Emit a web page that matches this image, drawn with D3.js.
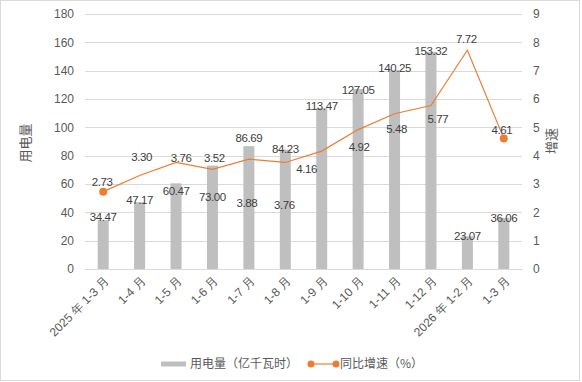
<!DOCTYPE html>
<html>
<head>
<meta charset="utf-8">
<script src="https://cdn.jsdelivr.net/npm/d3@7"></script>
<style>
html,body{margin:0;padding:0;background:#fff;}
svg{display:block;font-family:"Liberation Sans",Arial,"Noto Sans CJK SC",sans-serif;}
</style>
</head>
<body>
<svg id="chart" width="582" height="382"></svg>
<script>
const categories = ["2025 年 1-3 月","1-4 月","1-5 月","1-6 月","1-7 月","1-8 月","1-9 月","1-10 月","1-11 月","1-12 月","2026 年 1-2 月","1-3 月"];
const usage = [34.47,47.17,60.47,73.00,86.69,84.23,113.47,127.05,140.25,153.32,23.07,36.06];
const growth = [2.73,3.30,3.76,3.52,3.88,3.76,4.16,4.92,5.48,5.77,7.72,4.61];
const leftTicks = [0,20,40,60,80,100,120,140,160,180];
const rightTicks = [0,1,2,3,4,5,6,7,8,9];

// label placement offsets (style)
const barLabelDy = [-3.5,-2,8,31,-8,-1,-2,1,-2,-1,-0.5,-0.2];
const lineLabelDy = [-10,-19,-4.5,-11.6,44,42.5,17.7,17,15,13.5,-11,-8];
const lineLabelDx = [-1,2,5,2,-2,-1,-15,1,2,7,-1,-2];

const svg = d3.select("#chart");
const W = 582, H = 382;
const m = {left:85, right:60, top:14, bottom:113};
const x0 = m.left, x1 = W - m.right, y0 = H - m.bottom, y1 = m.top;

svg.append("rect").attr("x",0.5).attr("y",0.5).attr("width",579).attr("height",380)
  .attr("fill","#fff").attr("stroke","#D9D9D9");

const xc = d3.scalePoint().domain(categories).range([x0, x1]).padding(0.5);
const yL = d3.scaleLinear().domain([0,180]).range([y0,y1]);
const yR = d3.scaleLinear().domain([0,9]).range([y0,y1]);

// gridlines
svg.append("g").selectAll("line").data(leftTicks).join("line")
  .attr("x1",x0).attr("x2",x1)
  .attr("y1",d=>Math.round(yL(d))+0.5).attr("y2",d=>Math.round(yL(d))+0.5)
  .attr("stroke","#D9D9D9").attr("stroke-width",1);

// left axis
const gl = svg.append("g").attr("transform",`translate(${x0},0)`)
  .call(d3.axisLeft(yL).tickValues(leftTicks).tickSize(0).tickPadding(11));
gl.select(".domain").remove();
gl.selectAll("text").attr("fill","#595959").attr("font-size","12px").style("font-family","'Liberation Sans',Arial,sans-serif");

// right axis
const gr = svg.append("g").attr("transform",`translate(${x1},0)`)
  .call(d3.axisRight(yR).tickValues(rightTicks).tickSize(0).tickPadding(11));
gr.select(".domain").remove();
gr.selectAll("text").attr("fill","#595959").attr("font-size","12px").style("font-family","'Liberation Sans',Arial,sans-serif");

// bars
svg.append("g").selectAll("rect").data(usage).join("rect")
  .attr("x",(d,i)=>xc(categories[i]) - 5.5)
  .attr("width",11)
  .attr("y",d=>yL(d))
  .attr("height",d=>y0 - yL(d))
  .attr("fill","#BFBFBF");

// bottom axis
const gb = svg.append("g").attr("transform",`translate(0,${y0})`)
  .call(d3.axisBottom(xc).tickSize(0).tickPadding(0));
gb.select(".domain").attr("stroke","#D9D9D9");
gb.selectAll("text")
  .attr("fill","#595959").attr("font-size","12px")
  .attr("text-anchor","end")
  .attr("dy",null).attr("y",null)
  .attr("transform","translate(6,13) rotate(-45)");

// line
const line = d3.line().x((d,i)=>xc(categories[i])).y(d=>yR(d));
svg.append("path").datum(growth).attr("d",line)
  .attr("fill","none").attr("stroke","#ED7D31").attr("stroke-width",1.2);

// end markers
svg.append("g").selectAll("circle").data([0, growth.length-1]).join("circle")
  .attr("cx",i=>xc(categories[i])).attr("cy",i=>yR(growth[i])).attr("r",4)
  .attr("fill","#ED7D31");

// bar labels
svg.append("g").selectAll("text").data(usage).join("text")
  .attr("x",(d,i)=>xc(categories[i]))
  .attr("y",(d,i)=>yL(d) + barLabelDy[i])
  .attr("dy","0.35em")
  .attr("text-anchor","middle")
  .attr("font-size","11.5px").attr("letter-spacing","-0.4px")
  .attr("fill","#404040")
  .text(d=>d.toFixed(2));

// line labels
svg.append("g").selectAll("text").data(growth).join("text")
  .attr("x",(d,i)=>xc(categories[i]) + lineLabelDx[i])
  .attr("y",(d,i)=>yR(d) + lineLabelDy[i])
  .attr("dy","0.35em")
  .attr("text-anchor","middle")
  .attr("font-size","11.5px").attr("letter-spacing","-0.4px")
  .attr("fill","#404040")
  .text(d=>d.toFixed(2));

// axis titles
svg.append("text").attr("transform","translate(25,143) rotate(-90)")
  .attr("text-anchor","middle").attr("dy","0.35em")
  .attr("font-size","13px").attr("fill","#595959")
  .style("font-family","'Noto Sans CJK SC',sans-serif")
  .text("用电量");
svg.append("text").attr("transform","translate(551,141) rotate(-90)")
  .attr("text-anchor","middle").attr("dy","0.35em")
  .attr("font-size","13px").attr("fill","#595959")
  .style("font-family","'Noto Sans CJK SC',sans-serif")
  .text("增速");

// legend
const lg = svg.append("g");
lg.append("rect").attr("x",161).attr("y",361.5).attr("width",25).attr("height",5).attr("fill","#BFBFBF");
lg.append("text").attr("x",190).attr("y",364).attr("dy","0.35em")
  .attr("font-size","12px").attr("fill","#595959")
  .style("font-family","'Noto Sans CJK SC',sans-serif")
  .text("用电量（亿千瓦时）");
lg.append("line").attr("x1",311).attr("x2",336).attr("y1",364).attr("y2",364)
  .attr("stroke","#ED7D31").attr("stroke-width",1.2);
lg.selectAll("circle").data([311,336]).join("circle")
  .attr("cx",d=>d).attr("cy",364).attr("r",3.5).attr("fill","#ED7D31");
lg.append("text").attr("x",340).attr("y",364).attr("dy","0.35em")
  .attr("font-size","12px").attr("fill","#595959")
  .style("font-family","'Noto Sans CJK SC',sans-serif")
  .text("同比增速（%）");
</script>
</body>
</html>
